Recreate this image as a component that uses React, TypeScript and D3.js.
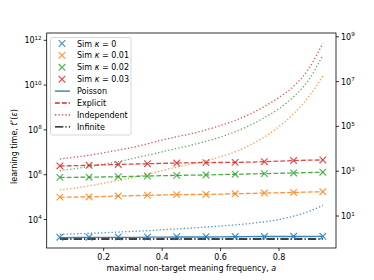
import * as d3 from "d3";

const aSim = [0.05, 0.15, 0.25, 0.35, 0.45, 0.55, 0.65, 0.75, 0.85, 0.95];
const aCurve = [0.05, 0.1, 0.15, 0.2, 0.25, 0.3, 0.35, 0.4, 0.45, 0.5, 0.55, 0.6, 0.65, 0.7, 0.75, 0.8, 0.85, 0.9, 0.95];

const kappas = ["0", "0.01", "0.02", "0.03"];
const colors = ["#1f77b4", "#ff7f0e", "#2ca02c", "#d62728"];

// simulated learning times (markers)
const sim0 = [1620, 1620, 1660, 1660, 1700, 1700, 1740, 1740, 1780, 1780];
const sim1 = [1.0e5, 1.02e5, 1.12e5, 1.2e5, 1.29e5, 1.32e5, 1.41e5, 1.51e5, 1.62e5, 1.74e5];
const sim2 = [7.59e5, 7.76e5, 8.13e5, 8.71e5, 9.33e5, 9.77e5, 1.05e6, 1.12e6, 1.2e6, 1.29e6];
const sim3 = [2.45e6, 2.63e6, 2.88e6, 3.09e6, 3.31e6, 3.47e6, 3.55e6, 3.8e6, 4.27e6, 4.57e6];

// explicit theory (dashed)
const explicit1 = [1.0e5, 1.02e5, 1.12e5, 1.2e5, 1.29e5, 1.32e5, 1.41e5, 1.51e5, 1.62e5, 1.74e5];
const explicit2 = [7.59e5, 7.76e5, 8.13e5, 8.71e5, 9.33e5, 9.77e5, 1.05e6, 1.12e6, 1.2e6, 1.29e6];
const explicit3 = [2.45e6, 2.63e6, 2.88e6, 3.09e6, 3.31e6, 3.47e6, 3.55e6, 3.8e6, 4.27e6, 4.57e6];

// poisson (kappa = 0) and infinite
const poisson = [1550, 1580, 1580, 1620, 1660, 1660, 1700, 1740, 1740, 1780];
const infinite = [1350, 1350, 1350, 1350, 1350, 1350, 1350, 1350, 1350, 1350];

// independent approximation (dotted)
const indep0 = [2190, 2290, 2400, 2570, 2750, 2950, 3160, 3470, 3800, 4170, 4570, 5130, 5750, 6610, 7940, 1.0e4, 1.41e4, 2.24e4, 4.27e4];
const indep1 = [2.09e5, 2.51e5, 3.16e5, 4.17e5, 5.62e5, 7.59e5, 1.05e6, 1.51e6, 2.19e6, 3.02e6, 4.17e6, 6.31e6, 1.05e7, 2.09e7, 4.79e7, 1.41e8, 5.25e8, 2.82e9, 2.51e10];
const indep2 = [1.51e6, 1.86e6, 2.29e6, 2.95e6, 3.8e6, 5.25e6, 7.41e6, 1.05e7, 1.48e7, 2.09e7, 3.09e7, 4.79e7, 8.32e7, 1.58e8, 3.55e8, 8.91e8, 3.02e9, 1.58e10, 2.19e11];
const indep3 = [5.01e6, 6.03e6, 7.41e6, 9.55e6, 1.26e7, 1.66e7, 2.4e7, 3.55e7, 5.01e7, 6.76e7, 1.0e8, 1.58e8, 2.63e8, 5.01e8, 1.12e9, 2.82e9, 8.91e9, 5.01e10, 7.41e11];

const xTicks = [0.2, 0.4, 0.6, 0.8];
const yTicksLeft = [4, 6, 8, 10, 12];
const yTicksRight = [1, 3, 5, 7, 9];

const W = 374;
const H = 280;
const L = 46.7, R = 336, T = 33, B = 248;
const font = "DejaVu Sans";

export default function App() {
  const x = d3.scaleLinear().domain([0.005, 0.995]).range([L, R]);
  const y = d3.scaleLog().domain([10 ** 2.728, 10 ** 12.326]).range([B, T]);
  const yR = d3.scaleLog().domain([10 ** -0.428, 10 ** 9.17]).range([B, T]);

  const line = (xs: number[]) =>
    d3.line<number>().x((_, i) => x(xs[i])).y((d) => y(d)).curve(d3.curveMonotoneX);

  const sims = [sim0, sim1, sim2, sim3];
  const explicits = [explicit1, explicit2, explicit3];
  const indeps = [indep0, indep1, indep2, indep3];

  const lw = 1.3;
  const dashed = `${3.7 * lw},${1.6 * lw}`;
  const dotted = `${1 * lw},${1.65 * lw}`;
  const dashdot = `${6.4 * lw},${1.6 * lw},${1 * lw},${1.6 * lw}`;

  const xMark = (cx: number, cy: number, c: string, k: string) => (
    <path
      key={k}
      d={`M${cx - 3.3},${cy - 3.3}L${cx + 3.3},${cy + 3.3}M${cx - 3.3},${cy + 3.3}L${cx + 3.3},${cy - 3.3}`}
      stroke={c}
      strokeWidth={1.2}
      opacity={0.8}
    />
  );

  const legendRows = [
    { type: "sim", c: colors[0], label: kappas[0] },
    { type: "sim", c: colors[1], label: kappas[1] },
    { type: "sim", c: colors[2], label: kappas[2] },
    { type: "sim", c: colors[3], label: kappas[3] },
    { type: "line", c: colors[0], dash: "none", label: "Poisson" },
    { type: "line", c: colors[3], dash: dashed, label: "Explicit" },
    { type: "line", c: colors[3], dash: dotted, label: "Independent" },
    { type: "line", c: "#000", dash: dashdot, label: "Infinite" },
  ];

  return (
    <svg
      width={W}
      height={H}
      style={{ position: "absolute", left: 0, top: 0, background: "#fff" }}
      fontFamily={font}
    >
      <rect width={W} height={H} fill="#fff" />
      <defs>
        <clipPath id="plot">
          <rect x={L} y={T} width={R - L} height={B - T} />
        </clipPath>
      </defs>
      <g clipPath="url(#plot)">
        {indeps.map((s, i) => (
          <path key={"ind" + i} d={line(aCurve)(s) || ""} fill="none" stroke={colors[i]} strokeWidth={lw} strokeDasharray={dotted} opacity={0.8} />
        ))}
        <path d={line(aSim)(infinite) || ""} fill="none" stroke="#000" strokeWidth={lw} strokeDasharray={dashdot} />
        <path d={line(aSim)(poisson) || ""} fill="none" stroke={colors[0]} strokeWidth={lw} opacity={0.9} />
        {explicits.map((s, i) => (
          <path key={"exp" + i} d={line(aSim)(s) || ""} fill="none" stroke={colors[i + 1]} strokeWidth={lw} strokeDasharray={dashed} opacity={0.85} />
        ))}
        {sims.map((s, i) => s.map((v, j) => xMark(x(aSim[j]), y(v), colors[i], `m${i}-${j}`)))}
      </g>

      {/* axes frame */}
      <rect x={L} y={T} width={R - L} height={B - T} fill="none" stroke="#000" strokeWidth={0.8} />

      {/* x ticks */}
      {xTicks.map((t) => (
        <g key={"xt" + t}>
          <line x1={x(t)} x2={x(t)} y1={B} y2={B + 3} stroke="#000" strokeWidth={0.8} />
          <text x={x(t)} y={B + 12} fontSize={8} textAnchor="middle" fill="#000">{t.toFixed(1)}</text>
        </g>
      ))}

      {/* left y ticks */}
      {yTicksLeft.map((e) => (
        <g key={"yl" + e}>
          <line x1={L - 3} x2={L} y1={y(10 ** e)} y2={y(10 ** e)} stroke="#000" strokeWidth={0.8} />
          <text x={L - 5} y={y(10 ** e) + 3} fontSize={8} textAnchor="end" fill="#000">
            10<tspan fontSize={5.6} dy={-3.5}>{e}</tspan>
          </text>
        </g>
      ))}

      {/* right y ticks */}
      {yTicksRight.map((e) => (
        <g key={"yr" + e}>
          <line x1={R} x2={R + 3} y1={yR(10 ** e)} y2={yR(10 ** e)} stroke="#000" strokeWidth={0.8} />
          <text x={R + 5} y={yR(10 ** e) + 3} fontSize={8} textAnchor="start" fill="#000">
            10<tspan fontSize={5.6} dy={-3.5}>{e}</tspan>
          </text>
        </g>
      ))}

      {/* axis labels */}
      <text x={(L + R) / 2} y={271} fontSize={8} textAnchor="middle" fill="#000">
        maximal non-target meaning frequency, <tspan fontStyle="italic">a</tspan>
      </text>
      <text transform={`translate(17,${(T + B) / 2 + 6}) rotate(-90)`} fontSize={8} textAnchor="middle" fill="#000">
        learning time, <tspan fontStyle="italic">t</tspan>
        <tspan fontSize={5.6} dy={-3}>*</tspan>
        <tspan dy={3}>(</tspan>
        <tspan fontStyle="italic">ε</tspan>)
      </text>

      {/* legend */}
      <rect x={50.5} y={37.5} width={80.5} height={97.5} rx={2} fill="#fff" fillOpacity={0.8} stroke="#ccc" strokeWidth={0.8} />
      {legendRows.map((r, i) => {
        const ry = 43.5 + i * 11.9;
        return (
          <g key={"lg" + i}>
            {r.type === "sim"
              ? xMark(62, ry, r.c, "lm" + i)
              : (
                <line x1={55} x2={70} y1={ry} y2={ry} stroke={r.c} strokeWidth={lw} strokeDasharray={r.dash} />
              )}
            <text x={77} y={ry + 3} fontSize={8} fill="#000">
              {r.type === "sim" ? (
                <>
                  Sim <tspan fontStyle="italic">κ</tspan> = {r.label}
                </>
              ) : (
                r.label
              )}
            </text>
          </g>
        );
      })}
    </svg>
  );
}
